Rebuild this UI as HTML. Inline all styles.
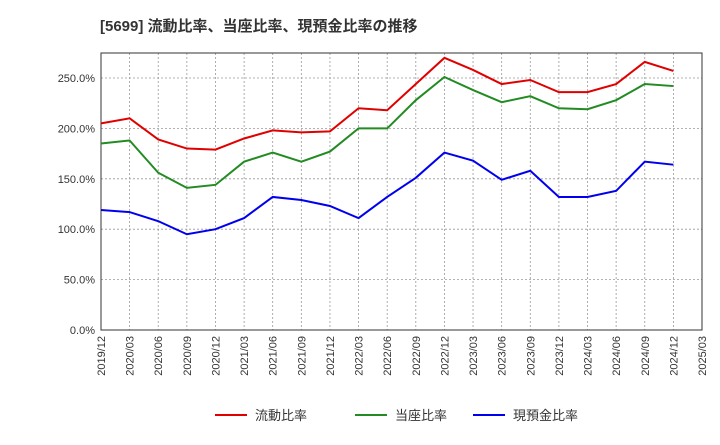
<!DOCTYPE html>
<html><head><meta charset="utf-8"><style>
body{margin:0;background:#fff;font-family:"Liberation Sans","Noto Sans CJK JP",sans-serif;}
svg text{font-family:"Liberation Sans","Noto Sans CJK JP",sans-serif;}
</style></head><body>
<svg id="c" width="720" height="440" xmlns="http://www.w3.org/2000/svg">
<text x="100" y="31" font-size="15" font-weight="bold" fill="#333">[5699]  流動比率、当座比率、現預金比率の推移</text>
</svg>
<script>
const categories=["2019/12","2020/03","2020/06","2020/09","2020/12","2021/03","2021/06","2021/09","2021/12","2022/03","2022/06","2022/09","2022/12","2023/03","2023/06","2023/09","2023/12","2024/03","2024/06","2024/09","2024/12","2025/03"];
const currentRatio=[205,210,189,180,179,190,198,196,197,220,218,244,270,258,244,248,236,236,244,266,257];
const quickRatio=[185,188,156,141,144,167,176,167,177,200,200,228,251,238,226,232,220,219,228,244,242];
const cashRatio=[119,117,108,95,100,111,132,129,123,111,132,151,176,168,149,158,132,132,138,167,164];
const yTicks=[0,50,100,150,200,250];
const yTickLabels=["0.0%","50.0%","100.0%","150.0%","200.0%","250.0%"];
const NS="http://www.w3.org/2000/svg";
const svg=document.getElementById('c');
const L=101,R=702,T=53,B=330;
const x=i=>L+(R-L)*i/(categories.length-1);
const y=v=>B-v*(B-78)/250;
function mk(t,a,p){const e=document.createElementNS(NS,t);for(const k in a)e.setAttribute(k,a[k]);(p||svg).appendChild(e);return e;}
const grid=mk('g',{});


yTicks.forEach((v,i)=>{
 const l=mk('line',{x1:L,x2:R,y1:y(v),y2:y(v),stroke:'#999','stroke-dasharray':'2,2','stroke-width':0.8},grid);
 
 
 const t=mk('text',{x:L-6,y:y(v)+4,'text-anchor':'end','font-size':11,fill:'#333'});
 t.textContent=yTickLabels[i];
 
 
});
categories.forEach((c,i)=>{
 const l=mk('line',{x1:x(i),x2:x(i),y1:T,y2:B,stroke:'#999','stroke-dasharray':'2,2','stroke-width':0.8},grid);
 
 
 const t=mk('text',{x:0,y:0,'text-anchor':'end','font-size':11,fill:'#333',transform:`translate(${x(i)+4},${B+6}) rotate(-90)`});
 t.textContent=c;
 
 
});
const fr=mk('rect',{x:L,y:T,width:R-L,height:B-T,fill:'none',stroke:'#333','stroke-width':1});


const series=[[currentRatio,'#e00000','current-ratio-line'],[quickRatio,'#228b22','quick-ratio-line'],[cashRatio,'#0000ee','cash-ratio-line']];
series.forEach(([d,col,n])=>{
 const p=mk('polyline',{points:d.map((v,i)=>x(i)+','+y(v)).join(' '),fill:'none',stroke:col,'stroke-width':2});
 
 
});
const legend=[['流動比率','#e00000',215],['当座比率','#228b22',355],['現預金比率','#0000ee',473]];
legend.forEach(([lab,col,lx])=>{
 const g=mk('g',{});
 
 
 mk('line',{x1:lx,x2:lx+32,y1:415,y2:415,stroke:col,'stroke-width':2},g);
 const t=mk('text',{x:lx+40,y:420,'font-size':13,fill:'#333'},g);
 t.textContent=lab;
});
</script>
</body></html>
